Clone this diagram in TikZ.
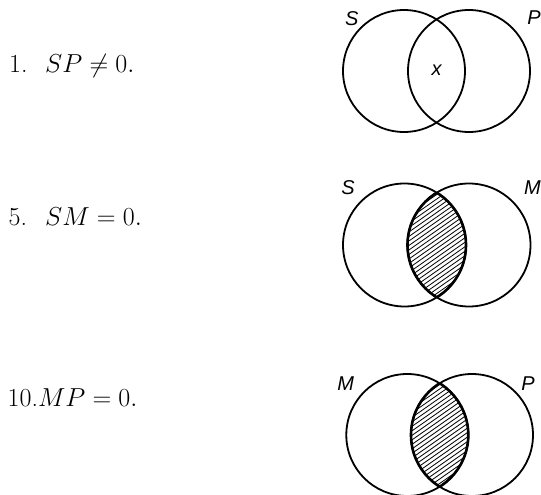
\RequirePackage{fix-cm}
\documentclass[tikz,border=0pt]{standalone}
\usepackage{fontspec}
\newfontfamily\labfont{Liberation Sans}
\begin{document}
\begin{tikzpicture}[x=1pt,y=-1pt,
  circ/.style={line width=1.8pt},
  lensline/.style={line width=2.6pt},
  hatch/.style={line width=0.8pt},
  lbl/.style={font=\labfont\fontsize{20}{20}\selectfont\itshape, inner sep=0pt},
  txt/.style={font=\fontsize{26}{26}\selectfont, anchor=base west, inner sep=0pt}]
\useasboundingbox[fill=white] (0,0) rectangle (541,495);

% ---------- texts ----------
\node[txt] (t1) at (9,72.3) {\makebox[36pt][l]{1.}$SP \neq 0.$};
\node[txt] (t5) at (8.5,225) {\makebox[36.5pt][l]{5.}$SM = 0.$};
\node[txt] (t10) at (7.5,406.7) {10.$MP = 0.$};

% ---------- diagram 1 ----------
\coordinate (A1) at (404,71);
\coordinate (B1) at (469,71);
\draw[circ] (A1) circle[radius=61pt];
\draw[circ] (B1) circle[radius=61pt];
\node[lbl] (S1) at (351.7,18.3) {S};
\node[lbl] (P1) at (534,18) {P};
\node[lbl] (X1) at (436.7,70) {x};

% ---------- diagram 2 ----------
\coordinate (A2) at (404.5,245);
\coordinate (B2) at (469,245);
\coordinate (M2) at (436.75,245);
\begin{scope}
  \clip (A2) circle[radius=61.5pt];
  \clip (B2) circle[radius=61.5pt];
  \foreach \d in {-100,-95.5,...,100}
    \draw[hatch] (M2) ++(-80,\d+56) -- ++(160,-112);
\end{scope}
\begin{scope}
  \clip (B2) circle[radius=61.5pt];
  \draw[lensline] (A2) circle[radius=61.5pt];
\end{scope}
\begin{scope}
  \clip (A2) circle[radius=61.5pt];
  \draw[lensline] (B2) circle[radius=61.5pt];
\end{scope}
\draw[circ] (A2) circle[radius=61.5pt];
\draw[circ] (B2) circle[radius=61.5pt];
\node[lbl] (S2) at (348,187.5) {S};
\node[lbl] (M2l) at (532.5,188) {M};

% ---------- diagram 3 ----------
\coordinate (A3) at (407.3,435);
\coordinate (B3) at (472,435);
\coordinate (M3) at (439.65,435);
\begin{scope}
  \clip (A3) circle[radius=61pt];
  \clip (B3) circle[radius=61pt];
  \foreach \d in {-100,-95.5,...,100}
    \draw[hatch] (M3) ++(-80,\d+56) -- ++(160,-112);
\end{scope}
\begin{scope}
  \clip (B3) circle[radius=61pt];
  \draw[lensline] (A3) circle[radius=61pt];
\end{scope}
\begin{scope}
  \clip (A3) circle[radius=61pt];
  \draw[lensline] (B3) circle[radius=61pt];
\end{scope}
\draw[circ] (A3) circle[radius=61pt];
\draw[circ] (B3) circle[radius=61pt];
\node[lbl] (M3l) at (345.7,384) {M};
\node[lbl] (P3) at (528,384) {P};
\end{tikzpicture}
\end{document}
